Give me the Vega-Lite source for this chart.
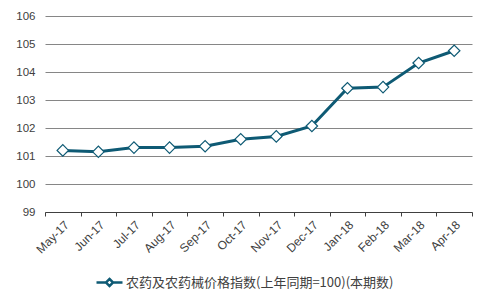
{
  "$schema": "https://vega.github.io/schema/vega-lite/v6.json",
  "width": 427,
  "height": 196,
  "autosize": {"type": "none"},
  "padding": {"left": 45, "top": 16, "right": 18, "bottom": 95},
  "background": "white",
  "config": {"view": {"stroke": null}, "font": "Liberation Sans"},
  "data": {"values": [
    {"month": "May-17", "value": 101.2, "series": "农药及农药械价格指数(上年同期=100)(本期数)"},
    {"month": "Jun-17", "value": 101.15, "series": "农药及农药械价格指数(上年同期=100)(本期数)"},
    {"month": "Jul-17", "value": 101.3, "series": "农药及农药械价格指数(上年同期=100)(本期数)"},
    {"month": "Aug-17", "value": 101.3, "series": "农药及农药械价格指数(上年同期=100)(本期数)"},
    {"month": "Sep-17", "value": 101.35, "series": "农药及农药械价格指数(上年同期=100)(本期数)"},
    {"month": "Oct-17", "value": 101.6, "series": "农药及农药械价格指数(上年同期=100)(本期数)"},
    {"month": "Nov-17", "value": 101.7, "series": "农药及农药械价格指数(上年同期=100)(本期数)"},
    {"month": "Dec-17", "value": 102.07, "series": "农药及农药械价格指数(上年同期=100)(本期数)"},
    {"month": "Jan-18", "value": 103.42, "series": "农药及农药械价格指数(上年同期=100)(本期数)"},
    {"month": "Feb-18", "value": 103.46, "series": "农药及农药械价格指数(上年同期=100)(本期数)"},
    {"month": "Mar-18", "value": 104.32, "series": "农药及农药械价格指数(上年同期=100)(本期数)"},
    {"month": "Apr-18", "value": 104.76, "series": "农药及农药械价格指数(上年同期=100)(本期数)"}
  ]},
  "encoding": {
    "x": {
      "field": "month", "type": "ordinal", "sort": null,
      "scale": {"type": "band", "paddingInner": 0, "paddingOuter": 0},
      "axis": {
        "title": null, "tickBand": "extent", "labelAngle": -45,
        "labelAlign": "right", "labelBaseline": "top",
        "labelFontSize": 12, "labelColor": "#404040", "labelPadding": 3,
        "domainColor": "#404040", "tickColor": "#404040", "tickSize": 4, "grid": false
      }
    },
    "y": {
      "field": "value", "type": "quantitative",
      "scale": {"domain": [99, 106], "nice": false, "zero": false},
      "axis": {
        "title": null, "values": [99, 100, 101, 102, 103, 104, 105, 106],
        "domain": false, "ticks": false, "labelPadding": 10,
        "labelFontSize": 11.5, "labelColor": "#404040",
        "gridColor": "#868686", "gridWidth": 1
      }
    }
  },
  "layer": [
    {
      "mark": {"type": "line", "strokeWidth": 3},
      "encoding": {
        "color": {
          "field": "series", "type": "nominal",
          "scale": {"range": ["#0E5A74"]},
          "legend": {
            "title": null, "orient": "none", "legendX": 50, "legendY": 252,
            "symbolType": "M-1,0L-0.27,0M0.27,0L1,0M0,-0.27L0.27,0L0,0.27L-0.27,0Z",
            "symbolSize": 676, "symbolStrokeColor": "#0E5A74",
            "symbolStrokeWidth": 2.5, "labelFont": "Noto Sans CJK SC", "labelFontSize": 13,
            "labelColor": "#404040", "labelOffset": 2, "labelLimit": 0,
            "encode": {"symbols": {"update": {"fill": {"value": "white"}, "stroke": {"value": "#0E5A74"}}}}
          }
        }
      }
    },
    {"mark": {"type": "point", "shape": "diamond", "filled": true, "fill": "white", "stroke": "#0E5A74", "strokeWidth": 1.2, "size": 130, "opacity": 1}}
  ]
}
